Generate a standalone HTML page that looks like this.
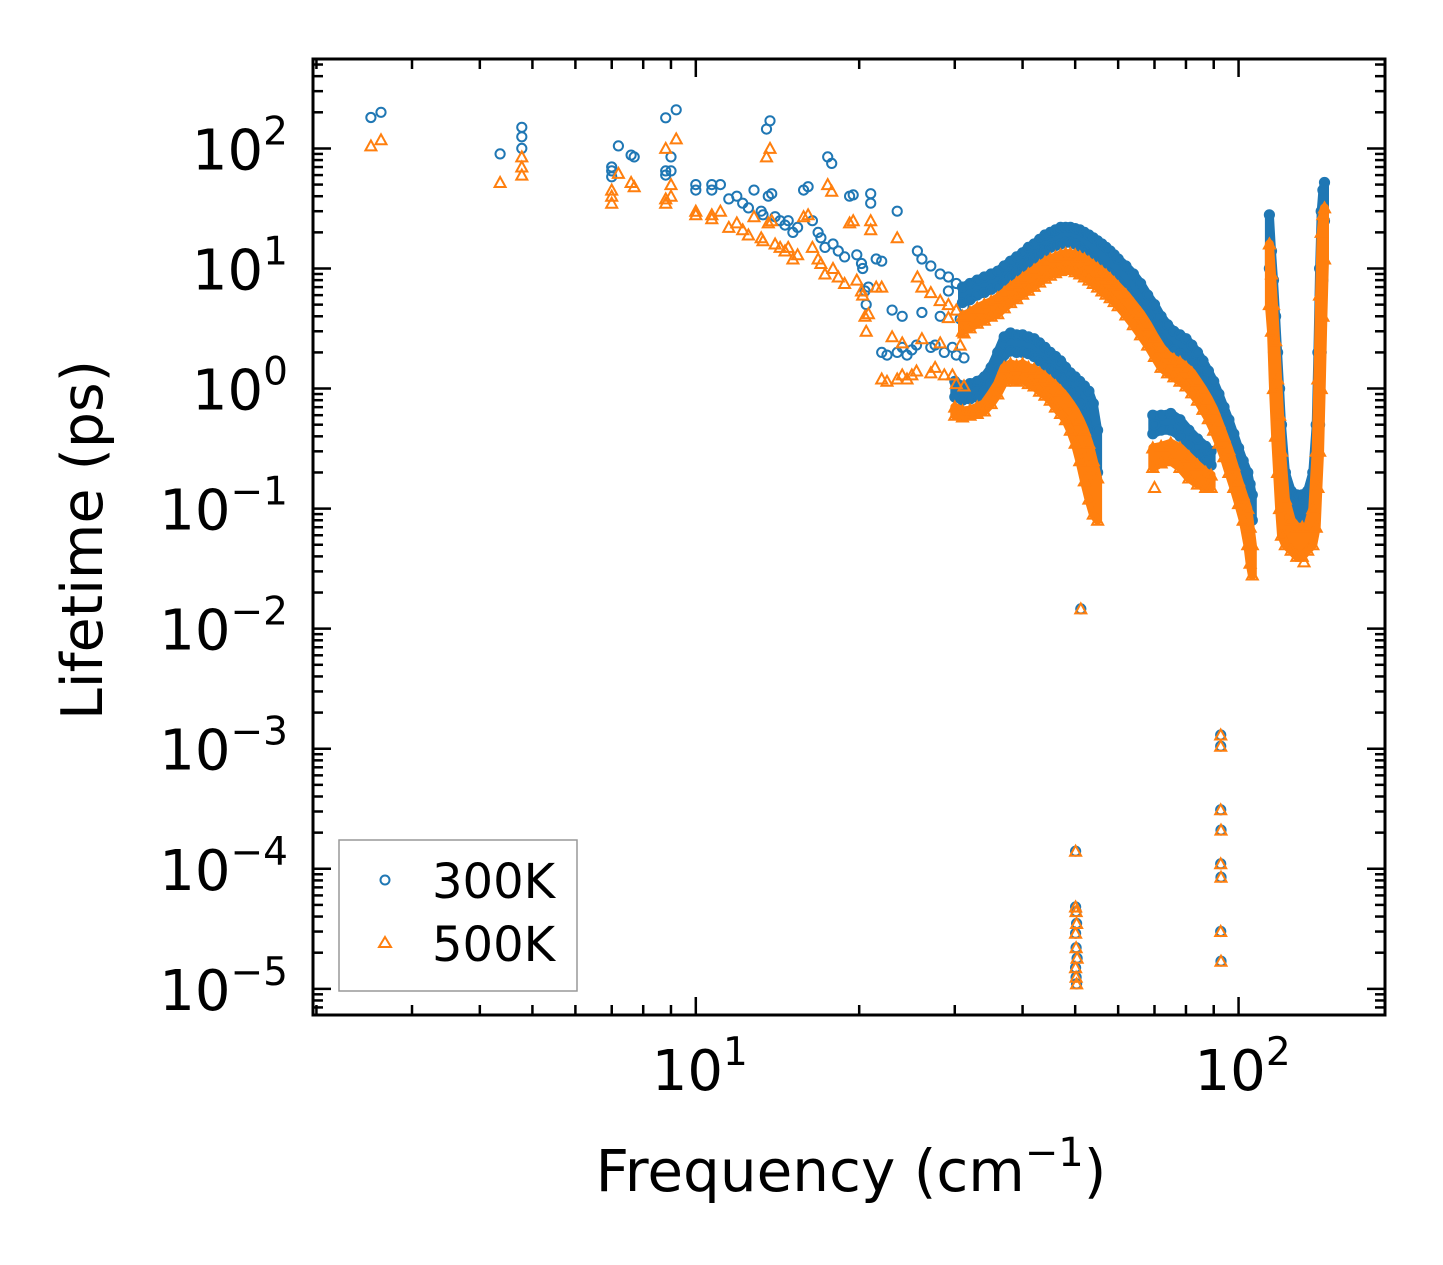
<!DOCTYPE html>
<html><head><meta charset="utf-8"><style>
html,body{margin:0;padding:0;background:#fff;}
svg{display:block;font-family:"DejaVu Sans","Liberation Sans",sans-serif;}
</style></head><body>
<svg id="chart" width="1443" height="1265" viewBox="0 0 1443 1265" xmlns="http://www.w3.org/2000/svg">
<rect x="0" y="0" width="1443" height="1265" fill="#fff"/>
<g id="marks"></g>
<g id="axes"></g>
<g>
<rect x="339" y="840" width="238" height="151" fill="#fff" stroke="#999" stroke-width="1.5"/>
<circle cx="385" cy="880" r="4.5" fill="none" stroke="#1f77b4" stroke-width="2"/>
<text x="432" y="898" font-size="48">300K</text>
<path d="M385,937 L391,947 L379,947 Z" fill="none" stroke="#ff7f0e" stroke-width="2"/>
<text x="432" y="961" font-size="48">500K</text>
</g>
<text x="851" y="1191" font-size="58" text-anchor="middle">Frequency (cm<tspan font-size="40" dy="-25">−1</tspan><tspan dy="25">)</tspan></text>
<text transform="translate(102,540) rotate(-90)" font-size="57" text-anchor="middle">Lifetime (ps)</text>
</svg>
<script>
// scattered points (frequency cm^-1, lifetime ps)
const scatFreq = [2.52,2.63,4.36,4.78,4.78,4.78,7.0,7.0,7.0,7.2,7.6,7.7,8.8,8.8,8.8,9.0,9.0,9.2,10.0,10.0,10.7,10.7,11.1,11.5,11.9,12.2,12.5,12.8,13.2,13.3,13.5,13.7,13.6,13.8,14.0,14.3,14.6,14.8,15.1,15.4,15.8,16.1,16.4,16.8,17.0,17.3,17.5,17.8,17.9,18.3,18.8,19.2,19.5,19.8,20.2,20.3,20.5,20.6,20.8,21.0,21.0,21.5,22.0,22.0,22.5,23.0,23.5,24.0,24.0,24.5,25.0,25.6,26.1,26.1,27.1,27.1,28.2,28.2,29.2,29.2,29.7,30.2,30.7,31.2,31.2,23.5,25.5,27.6,28.7,30.2];
const scat300 = [181,200,90,100,125,150,58,65,70,105,88,85,180,65,60,85,65,210,50,45,50,45,50,38,40,35,32,45,30,28,145,170,40,42,27,25,23,25,20,22,45,48,25,20,18,15,85,75,16,14,12.5,40,41,13,11,10,6.5,5,7,42,35,12,11.5,2.0,1.9,4.5,30,4.0,2.2,1.9,2.1,14,12,4.3,10.5,2.2,9,4,8.5,6.5,2.2,7.5,3.8,1.8,4.8,2.0,2.3,2.3,2.0,1.9];
const scat500 = [105,118,52,60,70,85,35,40,45,62,52,48,100,38,35,50,40,120,30,28,28,26,30,22,24,21,19,27,18,17,85,100,24,25,16,15,14,15,12,13,27,28,15,12,11,9,50,44,10,8.5,7.5,24,25,8,6.5,6,4,3,4.2,25,21,7,7,1.2,1.15,2.7,18,2.4,1.3,1.2,1.3,8.5,7,2.6,6.3,1.35,5.4,2.4,5,3.9,1.3,4.5,2.3,1.05,2.9,1.2,1.4,1.5,1.3,1.1];
// main ridge (upper/lower edge of dense band)
const ridgeFreq = [31,32,33,34,35,36,37,38,39,40,41,42,43,44,45,46,47,48,49,50,51,52,53,54,55,56,57,58,59,60,62,64,66,68,70,72,74,76,78,80,82,84,86,88,90,92,94,96,98,100,102,104,105,106];
const ridge300Hi = [7,7.5,8,8.5,9,9.5,10.5,11.5,12.5,13.5,15,16,17.5,19,20,21,22,22,22,21.5,21,20,19,18,17,16,15,14,13,12,10.5,9,7.5,6,5,4.0,3.4,3.0,2.8,2.6,2.3,2.0,1.7,1.4,1.15,0.9,0.7,0.55,0.42,0.32,0.25,0.2,0.16,0.13];
const ridge300Lo = [5.2,5.5,6,6.3,6.7,7,7.8,8.5,9.3,10,11,12,13,14,15,15.5,16,16.5,16.5,16,15,14,13,12,11,10.3,9.6,9,8.4,7.7,6.6,5.6,4.7,3.9,3.2,2.6,2.3,2.1,1.95,1.8,1.6,1.4,1.2,1.0,0.8,0.62,0.48,0.37,0.28,0.21,0.16,0.12,0.1,0.08];
const ridge500Hi = [4,4.3,4.7,5,5.3,5.7,6.3,7,7.6,8.3,9,9.7,10.5,11.3,12,12.5,13,13.3,13.3,13,12.5,12,11.3,10.6,10,9.4,8.8,8.2,7.6,7,6,5,4.2,3.4,2.7,2.2,1.9,1.75,1.65,1.5,1.35,1.15,0.98,0.82,0.67,0.52,0.4,0.31,0.23,0.17,0.13,0.1,0.07,0.05];
const ridge500Lo = [3,3.2,3.5,3.7,4,4.2,4.7,5.2,5.6,6.1,6.6,7.1,7.7,8.3,8.8,9.2,9.6,9.8,9.8,9.4,9,8.5,8,7.5,7,6.5,6.1,5.7,5.3,4.9,4.1,3.4,2.8,2.3,1.85,1.5,1.35,1.25,1.15,1.05,0.92,0.8,0.67,0.56,0.45,0.35,0.27,0.2,0.15,0.11,0.08,0.05,0.035,0.028];
// lower hump
const humpFreq = [30,31,32,33,34,35,36,37,38,39,40,41,42,43,44,45,46,47,48,49,50,51,52,53,54,55];
const hump300Hi = [1.15,1.05,1.1,1.15,1.25,1.5,2.0,2.7,2.9,2.8,2.8,2.7,2.6,2.4,2.2,2.0,1.85,1.7,1.5,1.35,1.25,1.15,1.05,0.95,0.75,0.45];
const hump300Lo = [0.85,0.8,0.82,0.85,0.95,1.1,1.45,1.9,2.05,2.0,2.0,1.95,1.85,1.7,1.55,1.45,1.3,1.2,1.05,0.95,0.85,0.75,0.6,0.45,0.3,0.2];
const hump500Hi = [0.7,0.65,0.66,0.7,0.75,0.9,1.1,1.5,1.6,1.55,1.6,1.5,1.45,1.35,1.25,1.15,1.05,0.95,0.85,0.75,0.65,0.55,0.45,0.35,0.25,0.18];
const hump500Lo = [0.6,0.58,0.6,0.62,0.65,0.75,0.9,1.15,1.2,1.15,1.2,1.1,1.05,0.95,0.88,0.8,0.7,0.62,0.55,0.45,0.35,0.25,0.17,0.12,0.09,0.08];
// lower branch 70-90
const branchFreq = [69.5,72,75,78,81,84,87,89];
const branch300Hi = [0.6,0.6,0.62,0.55,0.45,0.38,0.33,0.3];
const branch300Lo = [0.42,0.45,0.45,0.4,0.33,0.28,0.25,0.23];
const branch500Hi = [0.32,0.33,0.35,0.32,0.27,0.23,0.2,0.19];
const branch500Lo = [0.22,0.24,0.25,0.22,0.18,0.16,0.15,0.15];
// high-frequency spikes
const spikeFreq = [114,115,116,117,118,119,120,122,125,128,131,134,137,139,140,141,142,143,144];
const spike300Hi = [28,14,8,4,2,1,0.5,0.2,0.14,0.13,0.13,0.14,0.2,0.5,2,10,30,45,52];
const spike300Lo = [10,5,2,0.8,0.4,0.2,0.12,0.1,0.08,0.08,0.08,0.08,0.1,0.15,0.3,0.5,2,8,25];
const spike500Hi = [16,9,5,2.5,1.2,0.6,0.3,0.12,0.08,0.07,0.07,0.07,0.1,0.3,1.2,6,20,28,32];
const spike500Lo = [5,3,1,0.4,0.2,0.1,0.06,0.05,0.045,0.04,0.04,0.045,0.05,0.07,0.15,0.3,1,4,12];
// isolated extra points
const extraFreq = [70,132];
const extra300 = [0.5,0.12];
const extra500 = [0.15,0.036];
// outliers
const outFreq = [51.2,50.1,50.1,50.2,50.3,50.1,50.2,50.4,50.1,50.2,50.3,92.7,92.7,92.7,92.8,92.7,92.8,92.7,92.8];
const out300 = [0.0146,1.4e-4,4.8e-5,4.4e-5,3.5e-5,2.9e-5,2.2e-5,1.8e-5,1.5e-5,1.25e-5,1.1e-5,1.3e-3,1.05e-3,3.1e-4,2.1e-4,1.1e-4,8.5e-5,3.0e-5,1.7e-5];
const out500 = out300.slice();

const xTickVals = [10,100];
const xTickExp = ["1","2"];
const yTickVals = [1e2,1e1,1e0,1e-1,1e-2,1e-3,1e-4,1e-5];
const yTickExp = ["2","1","0","−1","−2","−3","−4","−5"];

const X0=313, X1=1385, Y0=59, Y1=1015;
const xLogMin=0.2947, xLogMax=2.2698;
const yLogMin=-5.218, yLogMax=2.745;
function xs(f){return X0+(Math.log10(f)-xLogMin)/(xLogMax-xLogMin)*(X1-X0);}
function ys(v){return Y1-(Math.log10(v)-yLogMin)/(yLogMax-yLogMin)*(Y1-Y0);}

const NS="http://www.w3.org/2000/svg";
const marks=document.getElementById('marks');
const axes=document.getElementById('axes');
const g300=document.createElementNS(NS,'g');


const g500=document.createElementNS(NS,'g');


marks.appendChild(g300);marks.appendChild(g500);

function circ(f,v){
  if(!(v>0))return;
  const c=document.createElementNS(NS,'circle');
  c.setAttribute('cx',xs(f).toFixed(1));c.setAttribute('cy',ys(v).toFixed(1));
  c.setAttribute('r','4.6');c.setAttribute('fill','none');
  c.setAttribute('stroke','#1f77b4');c.setAttribute('stroke-width','2');
  
  
  g300.appendChild(c);
}
function tri(f,v){
  if(!(v>0))return;
  const x=xs(f),y=ys(v);
  const p=document.createElementNS(NS,'path');
  p.setAttribute('d',`M${x.toFixed(1)},${(y-5.5).toFixed(1)} L${(x+5.5).toFixed(1)},${(y+4.5).toFixed(1)} L${(x-5.5).toFixed(1)},${(y+4.5).toFixed(1)} Z`);
  p.setAttribute('fill','none');p.setAttribute('stroke','#ff7f0e');p.setAttribute('stroke-width','2');
  
  
  g500.appendChild(p);
}
function plot(fr,arr,fn){fr.forEach((f,i)=>fn(f,arr[i]));}
function band(fr,hi,lo,fn,g,color,name){
  const pts=[];
  fr.forEach((f,i)=>pts.push(xs(f).toFixed(1)+','+ys(hi[i]).toFixed(1)));
  for(let i=fr.length-1;i>=0;i--)pts.push(xs(fr[i]).toFixed(1)+','+ys(lo[i]).toFixed(1));
  const p=document.createElementNS(NS,'polygon');
  p.setAttribute('points',pts.join(' '));
  p.setAttribute('fill',color);p.setAttribute('stroke',color);
  p.setAttribute('stroke-width','9');p.setAttribute('stroke-linejoin','round');
  
  
  g.appendChild(p);
  fr.forEach((f,i)=>{fn(f,hi[i]);fn(f,lo[i]);});
}
const B='#1f77b4', O='#ff7f0e';
// 300K
plot(scatFreq,scat300,circ);
band(ridgeFreq,ridge300Hi,ridge300Lo,circ,g300,B,'ridge-band-300k');
band(humpFreq,hump300Hi,hump300Lo,circ,g300,B,'hump-band-300k');
band(branchFreq,branch300Hi,branch300Lo,circ,g300,B,'branch-band-300k');
band(spikeFreq,spike300Hi,spike300Lo,circ,g300,B,'spike-band-300k');
plot(extraFreq,extra300,circ);
plot(outFreq,out300,circ);
// 500K
plot(scatFreq,scat500,tri);
band(ridgeFreq,ridge500Hi,ridge500Lo,tri,g500,O,'ridge-band-500k');
band(humpFreq,hump500Hi,hump500Lo,tri,g500,O,'hump-band-500k');
band(branchFreq,branch500Hi,branch500Lo,tri,g500,O,'branch-band-500k');
band(spikeFreq,spike500Hi,spike500Lo,tri,g500,O,'spike-band-500k');
plot(extraFreq,extra500,tri);
plot(outFreq,out500,tri);

function line(x1,y1,x2,y2,w,name){
  const l=document.createElementNS(NS,'line');
  l.setAttribute('x1',x1);l.setAttribute('y1',y1);l.setAttribute('x2',x2);l.setAttribute('y2',y2);
  l.setAttribute('stroke','#000');l.setAttribute('stroke-width',w);
  
  
  axes.appendChild(l);
}
const fr=document.createElementNS(NS,'rect');
fr.setAttribute('x',X0);fr.setAttribute('y',Y0);fr.setAttribute('width',X1-X0);fr.setAttribute('height',Y1-Y0);
fr.setAttribute('fill','none');fr.setAttribute('stroke','#000');fr.setAttribute('stroke-width','3');


axes.appendChild(fr);
for(let d=0;d<=2;d++){for(let m=1;m<10;m++){
  const v=m*Math.pow(10,d);const x=xs(v);
  if(x<X0+1||x>X1-1)continue;
  const L=(m===1)?18:10;
  line(x,Y1,x,Y1-L,2.5,'x-tick');line(x,Y0,x,Y0+L,2.5,'x-tick');
}}
xTickVals.forEach((v,i)=>{
  const t=document.createElementNS(NS,'text');
  t.setAttribute('x',(xs(v)+4).toFixed(1));t.setAttribute('y','1090');
  t.setAttribute('font-size','56');t.setAttribute('text-anchor','middle');
  t.innerHTML=`10<tspan font-size="39" dy="-25">${xTickExp[i]}</tspan>`;
  
  
  axes.appendChild(t);
});
for(let d=-6;d<=2;d++){for(let m=1;m<10;m++){
  const v=m*Math.pow(10,d);const y=ys(v);
  if(y<Y0+1||y>Y1-1)continue;
  const L=(m===1)?18:10;
  line(X0,y,X0+L,y,2.5,'y-tick');line(X1,y,X1-L,y,2.5,'y-tick');
}}
yTickVals.forEach((v,i)=>{
  const t=document.createElementNS(NS,'text');
  t.setAttribute('x','288');t.setAttribute('y',(ys(v)+21).toFixed(1));
  t.setAttribute('font-size','56');t.setAttribute('text-anchor','end');
  t.innerHTML=`10<tspan font-size="39" dy="-25">${yTickExp[i]}</tspan>`;
  
  
  axes.appendChild(t);
});
</script>
</body></html>
